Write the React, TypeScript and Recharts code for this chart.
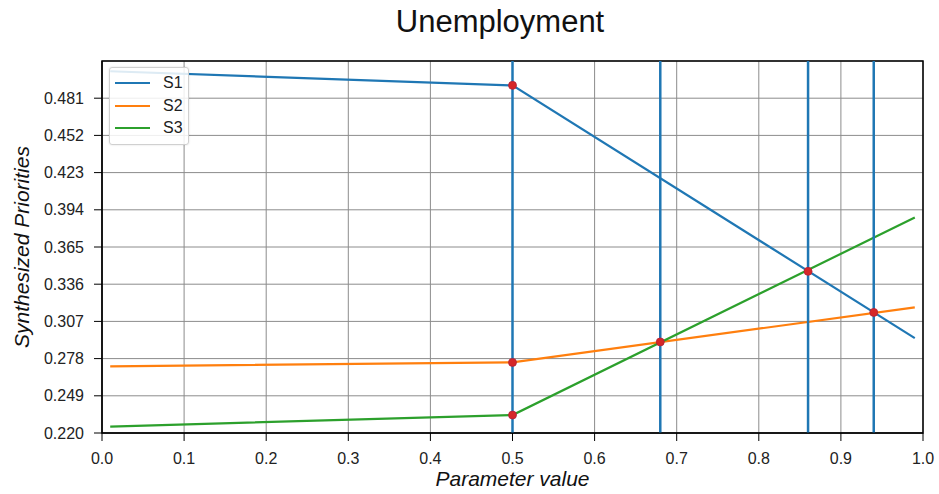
import {
  CartesianGrid,
  ComposedChart,
  Label,
  Line,
  ReferenceArea,
  ReferenceLine,
  Scatter,
  XAxis,
  YAxis,
} from 'recharts'

const paramValues = [0.01, 0.5, 0.99]
const s1Values = [0.502, 0.491, 0.294]
const s2Values = [0.272, 0.275, 0.318]
const s3Values = [0.225, 0.234, 0.388]

const switchPoints = [0.5, 0.68, 0.86, 0.94]
const markerX = [0.5, 0.5, 0.5, 0.68, 0.86, 0.94]
const markerY = [0.491, 0.275, 0.234, 0.291, 0.346, 0.314]

const xTicks = [0, 0.1, 0.2, 0.3, 0.4, 0.5, 0.6, 0.7, 0.8, 0.9, 1.0]
const yTicks = [0.22, 0.249, 0.278, 0.307, 0.336, 0.365, 0.394, 0.423, 0.452, 0.481]

const series = [
  { name: 'S1', values: s1Values, color: '#1f77b4' },
  { name: 'S2', values: s2Values, color: '#ff7f0e' },
  { name: 'S3', values: s3Values, color: '#2ca02c' },
]

const toPoints = (values: number[]) => paramValues.map((x, i) => ({ x, y: values[i] }))
const markers = markerX.map((x, i) => ({ x, y: markerY[i] }))

const font = '"Liberation Sans", Arial, sans-serif'

// matplotlib-style legend box, top left of the axes
const LegendBox = () => (
  <div
    style={{
      position: 'absolute',
      left: 109,
      top: 67,
      width: 80,
      boxSizing: 'border-box',
      border: '1px solid #d0d0d0',
      borderRadius: 3,
      background: 'rgba(255,255,255,0.85)',
      padding: '4px 0 4px 5px',
      fontFamily: font,
      fontSize: 16,
      color: '#222',
      boxShadow: '0 0 2px rgba(0,0,0,0.15)',
    }}
  >
    {series.map((s) => (
      <div key={s.name} style={{ display: 'flex', alignItems: 'center', height: 22.5 }}>
        <div style={{ width: 35, height: 2, background: s.color, marginRight: 13 }} />
        <span>{s.name}</span>
      </div>
    ))}
  </div>
)

const App = () => {
  return (
    <div style={{ position: 'absolute', left: 0, top: 0, width: 939, height: 494, background: '#fff' }}>
      <div
        style={{
          position: 'absolute',
          left: 500,
          top: 4,
          transform: 'translateX(-50%)',
          fontFamily: font,
          fontSize: 31,
          color: '#111',
          whiteSpace: 'nowrap',
        }}
      >
        Unemployment
      </div>
      <ComposedChart
        width={939}
        height={494}
        margin={{ top: 61, right: 16, left: 12, bottom: 6 }}
        style={{ fontFamily: font }}
      >
        <CartesianGrid stroke="#8c8c8c" strokeWidth={1} />
        <XAxis
          dataKey="x"
          type="number"
          domain={[0, 1]}
          ticks={xTicks}
          tickFormatter={(v: number) => v.toFixed(1)}
          height={55}
          tickSize={8}
          tickMargin={12}
          stroke="#000"
          tick={{ fill: '#222', fontSize: 16 }}
          allowDataOverflow
        >
          <Label
            value="Parameter value"
            position="insideBottom"
            offset={2}
            style={{ fontSize: 21, fontStyle: 'italic', fill: '#111' }}
          />
        </XAxis>
        <YAxis
          type="number"
          domain={[0.22, 0.51]}
          ticks={yTicks}
          tickFormatter={(v: number) => v.toFixed(3)}
          width={90}
          tickSize={8}
          tickMargin={10}
          stroke="#000"
          tick={{ fill: '#222', fontSize: 16 }}
          allowDataOverflow
        >
          <Label
            value="Synthesized Priorities"
            angle={-90}
            position="insideLeft"
            offset={10}
            style={{ fontSize: 21, fontStyle: 'italic', fill: '#111', textAnchor: 'middle' }}
          />
        </YAxis>
        <ReferenceArea x1={0} x2={1} y1={0.22} y2={0.51} fill="none" stroke="#000" strokeWidth={1.5} />
        {series.map((s) => (
          <Line
            key={s.name}
            name={s.name}
            data={toPoints(s.values)}
            dataKey="y"
            type="linear"
            stroke={s.color}
            strokeWidth={2.2}
            dot={false}
            activeDot={false}
            isAnimationActive={false}
          />
        ))}
        {switchPoints.map((x) => (
          <ReferenceLine key={x} x={x} stroke="#1f77b4" strokeWidth={2.5} />
        ))}
        <Scatter
          data={markers}
          dataKey="y"
          isAnimationActive={false}
          shape={(p: any) => <circle cx={p.cx} cy={p.cy} r={4} fill="#d62728" stroke="#b0213a" strokeWidth={0.8} />}
          legendType="none"
        />
      </ComposedChart>
      <LegendBox />
    </div>
  )
}

export default App
